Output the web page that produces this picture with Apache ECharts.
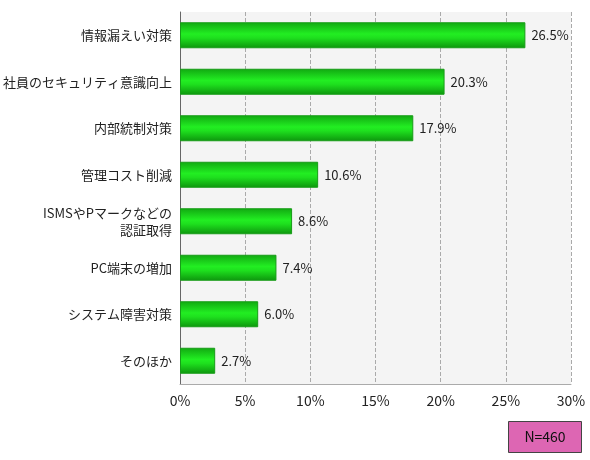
<!DOCTYPE html>
<html><head><meta charset="utf-8">
<script src="https://cdn.jsdelivr.net/npm/echarts@6/dist/echarts.min.js"></script>
<style>html,body{margin:0;padding:0;background:#fff}#c{width:590px;height:460px}</style>
</head><body><div id="c"></div>
<script>
const categories = ['情報漏えい対策','社員のセキュリティ意識向上','内部統制対策','管理コスト削減','ISMSやPマークなどの\n認証取得','PC端末の増加','システム障害対策','そのほか'];
const values = [26.5,20.3,17.9,10.6,8.6,7.4,6.0,2.7];
const xTicks = [0,5,10,15,20,25,30];
const font = '"Noto Sans CJK JP", sans-serif';
const chart = echarts.init(document.getElementById('c'));
chart.setOption({
  animation:false,
  grid:{left:180,right:19,top:12,bottom:76,backgroundColor:'#f4f4f4',show:true,borderWidth:0},
  xAxis:{type:'value',min:0,max:30,interval:5,
    axisLabel:{formatter:v=>v+'%',color:'#222',fontSize:14,fontFamily:font,margin:10},
    axisLine:{show:true,lineStyle:{color:'#aaa'}},axisTick:{show:false},
    splitLine:{show:true,lineStyle:{type:'dashed',color:'#aaa'}}},
  yAxis:{type:'category',inverse:true,data:categories,
    axisLabel:{color:'#222',fontSize:13,fontFamily:font,margin:8,lineHeight:17},
    axisLine:{lineStyle:{color:'#666'}},
    axisTick:{inside:true,length:9,lineStyle:{color:'#888'}}},
  series:[{type:'bar',data:values,barWidth:26,
    itemStyle:{borderColor:'#179c17',borderWidth:1,color:new echarts.graphic.LinearGradient(0,0,0,1,[
      {offset:0,color:'#11a811'},{offset:0.45,color:'#22ee22'},{offset:0.6,color:'#1ee01e'},{offset:1,color:'#0d950d'}])},
    label:{show:true,position:'right',formatter:p=>p.value.toFixed(1)+'%',color:'#222',fontSize:13,fontFamily:font,distance:6}}],
  graphic:[{type:'group',left:508,top:421,children:[
    {type:'rect',shape:{x:0,y:0,width:73,height:31},style:{fill:'#dd66b3',stroke:'#444',lineWidth:1}},
    {type:'text',style:{x:36.5,y:15.5,text:'N=460',align:'center',verticalAlign:'middle',fill:'#111',fontSize:14,fontFamily:font}}]}]
});
</script></body></html>
